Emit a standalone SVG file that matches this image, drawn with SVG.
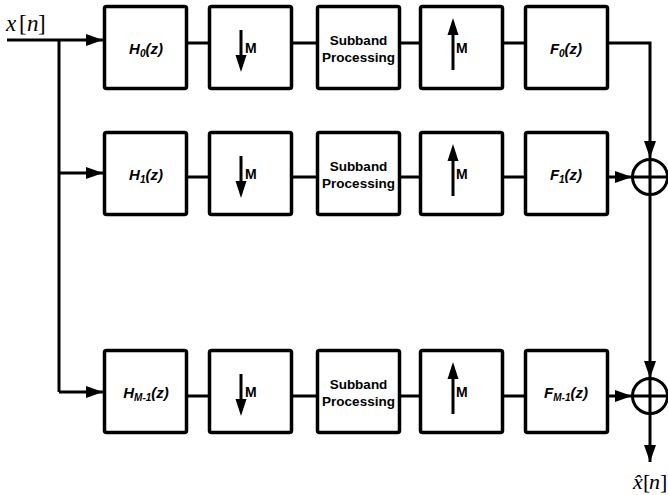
<svg xmlns="http://www.w3.org/2000/svg" width="668" height="495" viewBox="0 0 668 495">
<style>
.box{fill:#fff;stroke:#000;stroke-width:3.5}
.ln{fill:none;stroke:#000;stroke-width:3}
.lbl{font-family:"Liberation Sans",Arial,sans-serif;font-weight:bold;font-style:italic;font-size:15px;text-anchor:middle}
.m{font-family:"Liberation Sans",Arial,sans-serif;font-weight:bold;font-size:14px}
.sp{font-family:"Liberation Sans",Arial,sans-serif;font-weight:bold;font-size:13.5px;text-anchor:middle}
.math{font-family:"Liberation Serif","Times New Roman",serif;font-size:23px}
.it{font-style:italic}
.sum{fill:#fff;stroke:#000;stroke-width:3}
</style>
<defs>
<marker id="ah" markerUnits="userSpaceOnUse" markerWidth="18" markerHeight="12" refX="17" refY="6" orient="auto">
<path d="M0,0 L17,6 L0,12 z" fill="#000"/>
</marker>
</defs>

<g id="connectors">
<path class="ln" d="M7,40 H103" marker-end="url(#ah)"/>
<path class="ln" d="M59,40 V392"/>
<path class="ln" d="M59,173 H103" marker-end="url(#ah)"/>
<path class="ln" d="M59,392 H103" marker-end="url(#ah)"/>
<path class="ln" d="M188,43 H208 M293,43 H316 M401,43 H419 M504,43 H524"/>
<path class="ln" d="M188,177 H208 M293,177 H316 M401,177 H419 M504,177 H524"/>
<path class="ln" d="M188,396 H208 M293,396 H316 M401,396 H419 M504,396 H524"/>
<path class="ln" d="M609,43 H650 V158" marker-end="url(#ah)"/>
<path class="ln" d="M609,177 H632" marker-end="url(#ah)"/>
<path class="ln" d="M609,396 H632" marker-end="url(#ah)"/>
<path class="ln" d="M650,195 V378" marker-end="url(#ah)"/>
<path class="ln" d="M650,414 V462" marker-end="url(#ah)"/>
</g>

<g id="input-label">
<text class="math" y="31"><tspan class="it" x="6">x</tspan><tspan x="19">[</tspan><tspan class="it" x="27">n</tspan><tspan x="38">]</tspan></text>
</g>
<g id="output-label">
<text class="math" y="489" style="font-size:22px"><tspan class="it" x="633">x&#x302;</tspan><tspan x="643">[</tspan><tspan class="it" x="649">n</tspan><tspan x="660">]</tspan></text>
</g>

<g id="H0"><rect class="box" x="104.5" y="6.5" width="82" height="82" rx="2"/><text class="lbl" x="146" y="54">H<tspan font-size="10" dy="3">0</tspan><tspan dy="-3">(z)</tspan></text></g>
<g id="D0"><rect class="box" x="209.5" y="6.5" width="82" height="82" rx="2"/><path class="ln" d="M241,30 V60"/><path d="M235.5,55 L246.5,55 L241,72 z"/><text class="m" x="245" y="53">M</text></g>
<g id="S0"><rect class="box" x="317.5" y="6.5" width="82" height="82" rx="2"/><text class="sp" x="358.5" y="45">Subband</text><text class="sp" x="358.5" y="62">Processing</text></g>
<g id="U0"><rect class="box" x="420.5" y="6.5" width="82" height="82" rx="2"/><path class="ln" d="M453,70 V32"/><path d="M447.5,35 L458.5,35 L453,18 z"/><text class="m" x="456" y="53">M</text></g>
<g id="F0"><rect class="box" x="525.5" y="6.5" width="82" height="82" rx="2"/><text class="lbl" x="566" y="54">F<tspan font-size="10" dy="3">0</tspan><tspan dy="-3">(z)</tspan></text></g>

<g id="H1"><rect class="box" x="104.5" y="132.5" width="82" height="82" rx="2"/><text class="lbl" x="146" y="180">H<tspan font-size="10" dy="3">1</tspan><tspan dy="-3">(z)</tspan></text></g>
<g id="D1"><rect class="box" x="209.5" y="132.5" width="82" height="82" rx="2"/><path class="ln" d="M241,156 V186"/><path d="M235.5,181 L246.5,181 L241,198 z"/><text class="m" x="245" y="179">M</text></g>
<g id="S1"><rect class="box" x="317.5" y="132.5" width="82" height="82" rx="2"/><text class="sp" x="358.5" y="171">Subband</text><text class="sp" x="358.5" y="188">Processing</text></g>
<g id="U1"><rect class="box" x="420.5" y="132.5" width="82" height="82" rx="2"/><path class="ln" d="M453,196 V158"/><path d="M447.5,161 L458.5,161 L453,144 z"/><text class="m" x="456" y="179">M</text></g>
<g id="F1"><rect class="box" x="525.5" y="132.5" width="82" height="82" rx="2"/><text class="lbl" x="566" y="180">F<tspan font-size="10" dy="3">1</tspan><tspan dy="-3">(z)</tspan></text></g>

<g id="HM1"><rect class="box" x="104.5" y="350.5" width="82" height="82" rx="2"/><text class="lbl" x="146" y="398">H<tspan font-size="10" dy="3">M-1</tspan><tspan dy="-3">(z)</tspan></text></g>
<g id="DM1"><rect class="box" x="209.5" y="350.5" width="82" height="82" rx="2"/><path class="ln" d="M241,374 V404"/><path d="M235.5,399 L246.5,399 L241,416 z"/><text class="m" x="245" y="397">M</text></g>
<g id="SM1"><rect class="box" x="317.5" y="350.5" width="82" height="82" rx="2"/><text class="sp" x="358.5" y="389">Subband</text><text class="sp" x="358.5" y="406">Processing</text></g>
<g id="UM1"><rect class="box" x="420.5" y="350.5" width="82" height="82" rx="2"/><path class="ln" d="M453,414 V376"/><path d="M447.5,379 L458.5,379 L453,362 z"/><text class="m" x="456" y="397">M</text></g>
<g id="FM1"><rect class="box" x="525.5" y="350.5" width="82" height="82" rx="2"/><text class="lbl" x="566" y="398">F<tspan font-size="10" dy="3">M-1</tspan><tspan dy="-3">(z)</tspan></text></g>

<g id="sum1"><circle class="sum" cx="650" cy="177" r="17.5"/><path class="ln" d="M632.5,177 H667.5 M650,159.5 V194.5"/></g>
<g id="sum2"><circle class="sum" cx="650" cy="396" r="17.5"/><path class="ln" d="M632.5,396 H667.5 M650,378.5 V413.5"/></g>
</svg>
